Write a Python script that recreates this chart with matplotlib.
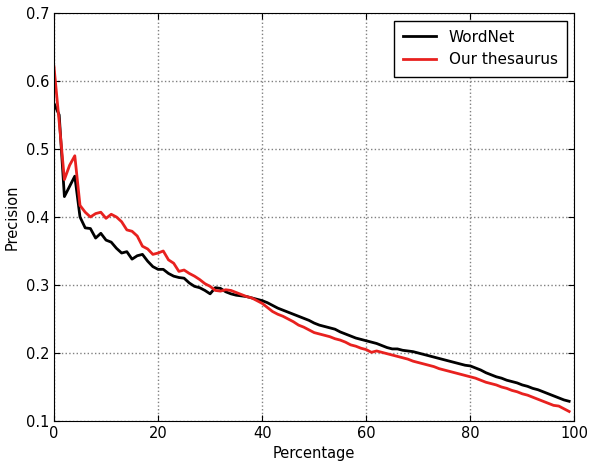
import numpy as np
import matplotlib.pyplot as plt

# Valores (x = 0..99)
percentage = np.arange(100)

wordnet = [0.567, 0.550, 0.430, 0.445, 0.460, 0.400, 0.384, 0.383, 0.369, 0.376,
           0.366, 0.363, 0.354, 0.347, 0.349, 0.338, 0.343, 0.345, 0.335, 0.327,
           0.323, 0.323, 0.317, 0.313, 0.311, 0.310, 0.303, 0.298, 0.296, 0.292,
           0.287, 0.296, 0.295, 0.290, 0.287, 0.285, 0.284, 0.283, 0.281, 0.279,
           0.277, 0.274, 0.270, 0.266, 0.263, 0.260, 0.257, 0.254, 0.251, 0.248,
           0.244, 0.241, 0.239, 0.237, 0.235, 0.231, 0.228, 0.225, 0.222, 0.220,
           0.218, 0.216, 0.214, 0.211, 0.208, 0.206, 0.206, 0.204, 0.203, 0.202,
           0.200, 0.198, 0.196, 0.194, 0.192, 0.190, 0.188, 0.186, 0.184, 0.182,
           0.181, 0.178, 0.175, 0.171, 0.168, 0.165, 0.163, 0.160, 0.158, 0.156,
           0.153, 0.151, 0.148, 0.146, 0.143, 0.140, 0.137, 0.134, 0.131, 0.129]

thesaurus = [0.621, 0.540, 0.455, 0.476, 0.490, 0.417, 0.407, 0.400, 0.405, 0.407,
             0.398, 0.404, 0.400, 0.393, 0.381, 0.379, 0.372, 0.357, 0.353, 0.345,
             0.347, 0.350, 0.337, 0.332, 0.320, 0.322, 0.317, 0.313, 0.308, 0.302,
             0.298, 0.292, 0.291, 0.293, 0.292, 0.289, 0.286, 0.283, 0.281, 0.277,
             0.273, 0.267, 0.261, 0.257, 0.254, 0.250, 0.246, 0.241, 0.238, 0.234,
             0.230, 0.228, 0.226, 0.224, 0.221, 0.219, 0.216, 0.212, 0.210, 0.207,
             0.205, 0.201, 0.203, 0.201, 0.199, 0.197, 0.195, 0.193, 0.191, 0.188,
             0.186, 0.184, 0.182, 0.180, 0.177, 0.175, 0.173, 0.171, 0.169, 0.167,
             0.165, 0.163, 0.160, 0.157, 0.155, 0.153, 0.150, 0.148, 0.145, 0.143,
             0.140, 0.138, 0.135, 0.132, 0.129, 0.126, 0.123, 0.122, 0.118, 0.114]

fig = plt.figure(figsize=(5.9, 4.63), dpi=100)
ax = fig.add_axes([0.0915, 0.0907, 0.882, 0.8813])

ax.plot(percentage, wordnet, color="black", linewidth=2, label="WordNet")
ax.plot(percentage, thesaurus, color="#e8211f", linewidth=2, label="Our thesaurus")

ax.set_xlim(0, 100)
ax.set_ylim(0.1, 0.7)
ax.set_xticks([0, 20, 40, 60, 80, 100])
ax.set_yticks([0.1, 0.2, 0.3, 0.4, 0.5, 0.6, 0.7])
ax.tick_params(direction="in", top=True, right=True, labelsize=10.5, length=4)
ax.grid(True, linestyle=":", color="gray", linewidth=1)
ax.set_xlabel("Percentage", fontsize=10.5)
ax.set_ylabel("Precision", fontsize=10.5)

leg = ax.legend(loc="upper right", fontsize=11, fancybox=False, framealpha=1,
                edgecolor="black", borderpad=0.6, handlelength=2.2)
leg.get_frame().set_linewidth(1)

fig.savefig("out.png", dpi=100)
